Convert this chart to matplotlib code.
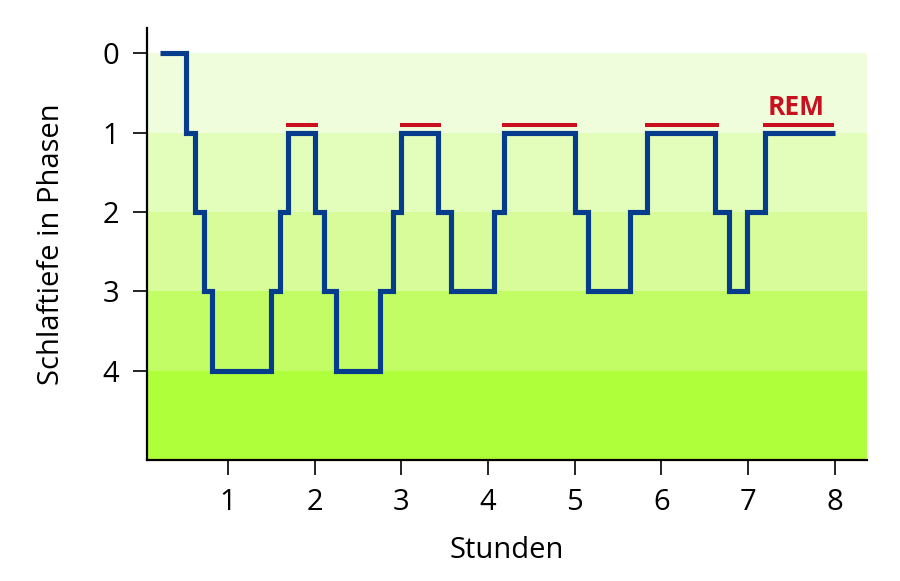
import matplotlib
matplotlib.use("Agg")
import matplotlib.pyplot as plt

# Hypnogramm: Schlafstadien über die Nacht (Stufenverlauf, where='post')
times = [0.22, 0.52, 0.62, 0.72, 0.81, 1.50, 1.60, 1.69, 2.00, 2.11, 2.25, 2.75, 2.90,
         3.00, 3.42, 3.57, 4.07, 4.18, 5.00, 5.15, 5.64, 5.83, 6.62, 6.78, 6.99, 7.20, 8.00]
stages = [0, 1, 2, 3, 4, 3, 2, 1, 2, 3, 4, 3, 2,
          1, 2, 3, 2, 1, 2, 3, 2, 1, 2, 3, 2, 1, 1]

# REM-Phasen
rem_start = [1.67, 2.99, 4.16, 5.81, 7.17]
rem_end = [2.04, 3.46, 5.03, 6.66, 7.99]
rem_level = 0.91

x_ticks = [1, 2, 3, 4, 5, 6, 7, 8]
y_ticks = [0, 1, 2, 3, 4]

# Hintergrund-Bänder (Schlaftiefe)
band_edges = [0, 1, 2, 3, 4, 5.2]
band_colors = ['#f0fddc', '#e3fdba', '#d8fc99', '#c3fd65', '#b0ff3b']

plt.rcParams['font.family'] = ['Open Sans', 'DejaVu Sans']

fig = plt.figure(figsize=(9, 5.81), dpi=100)
ax = fig.add_axes([0.163, 0.208, 0.80, 0.744])

for lo, hi, c in zip(band_edges[:-1], band_edges[1:], band_colors):
    ax.axhspan(lo, hi, color=c, lw=0, zorder=0)

ax.step(times, stages, where='post', color='#053c8c', lw=3.7,
        solid_joinstyle='miter', solid_capstyle='butt', zorder=3)
ax.hlines([rem_level] * len(rem_start), rem_start, rem_end, color='#c8101e',
          lw=2.9, zorder=2)
ax.text(7.55, 0.68, 'REM', color='#c8101e', fontsize=19, fontweight='bold',
        ha='center', va='center')

ax.set_xlim(0.062, 8.37)
ax.set_ylim(5.13, -0.32)
ax.set_xticks(x_ticks)
ax.set_yticks(y_ticks)
ax.tick_params(axis='x', length=11, width=1.2, labelsize=21, pad=9)
ax.tick_params(axis='y', length=10, width=1.2, labelsize=21, pad=10)
ax.set_xlabel('Stunden', fontsize=21, labelpad=14)
ax.set_ylabel('Schlaftiefe in Phasen', fontsize=21, labelpad=26)

for s in ['top', 'right']:
    ax.spines[s].set_visible(False)
for s in ['left', 'bottom']:
    ax.spines[s].set_linewidth(1.6)

fig.savefig('out.png', dpi=100)
